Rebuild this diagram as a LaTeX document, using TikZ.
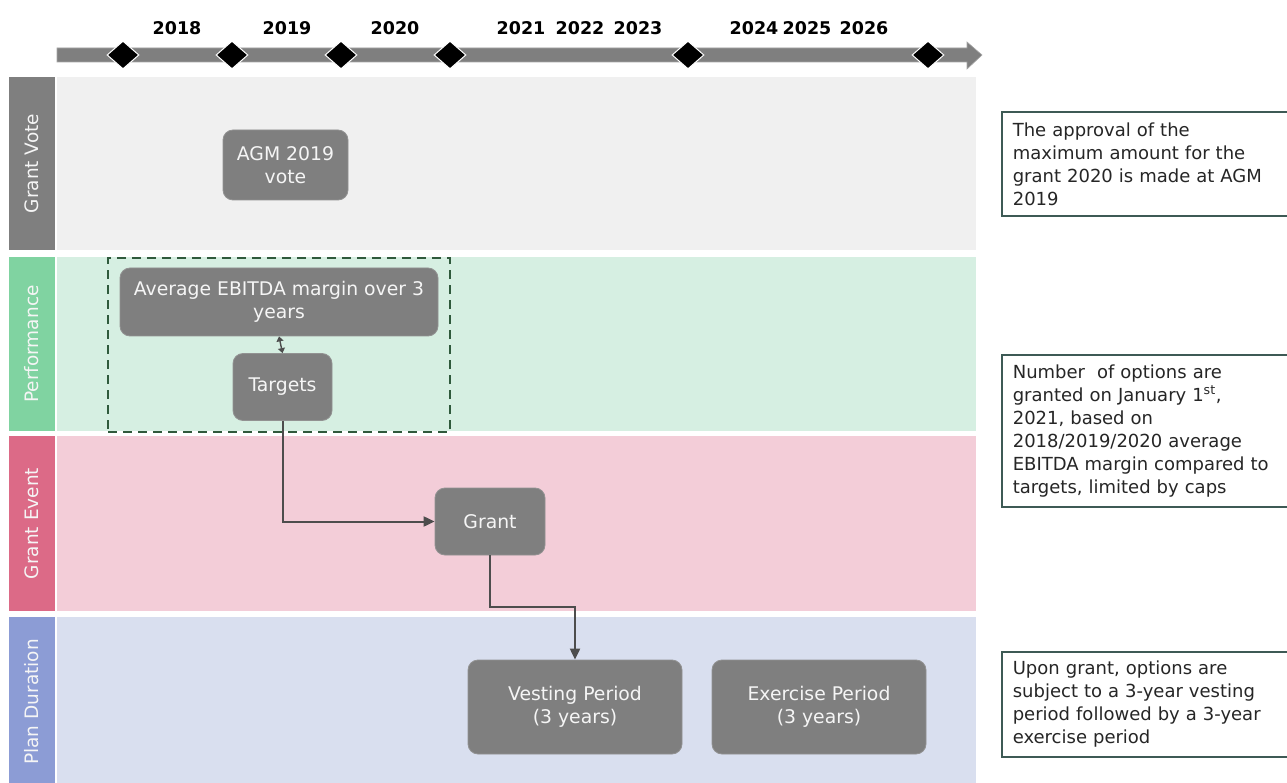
\documentclass[tikz,border=0pt]{standalone}
\usepackage{fontspec}
\setmainfont{DejaVu Sans}
\usetikzlibrary{arrows.meta,shapes.geometric}
\definecolor{boxgray}{HTML}{7F7F7F}
\definecolor{votebg}{HTML}{F0F0F0}
\definecolor{perfbg}{HTML}{D6EFE2}
\definecolor{perflab}{HTML}{80D3A1}
\definecolor{eventbg}{HTML}{F3CDD8}
\definecolor{eventlab}{HTML}{DC6A87}
\definecolor{planbg}{HTML}{D9DFEF}
\definecolor{planlab}{HTML}{8C9CD5}
\definecolor{dashgreen}{HTML}{2F5A3C}
\definecolor{notebd}{HTML}{3D5A55}
\definecolor{connc}{HTML}{4D4D4D}
\tikzset{
  stepbox/.style={rectangle, rounded corners=10pt, fill=boxgray, draw=boxgray!85!white, line width=0.8pt,
    text=white!96!black, font=\fontsize{18.8}{23}\selectfont, align=center, inner sep=0pt},
  lanelab/.style={rectangle, inner sep=0pt, minimum width=172pt, minimum height=46pt, rotate=90,
    text=white!96!black, font=\fontsize{18.5}{20}\selectfont},
  lanebg/.style={rectangle, inner sep=0pt, anchor=north west, minimum width=919pt},
  year/.style={font=\bfseries\fontsize{17.5}{20}\selectfont, text=black},
  milestone/.style={diamond, fill=black, draw=white, line width=1pt, minimum width=32pt, minimum height=28pt, inner sep=0pt},
  note/.style={rectangle, draw=notebd, line width=1.6pt, anchor=north west, align=left, text=black!85,
    font=\fontsize{18}{23}\selectfont, inner xsep=11pt, inner ysep=0pt, text width=280pt},
  conn/.style={draw=connc, line width=2pt, -{Triangle[length=11pt,width=10pt]}},
  groupbox/.style={rectangle, draw=dashgreen, line width=2.2pt, dash pattern=on 9pt off 6pt, inner sep=0pt, anchor=north west}
}
\begin{document}
\begin{tikzpicture}[x=1pt,y=-1pt]
\useasboundingbox (0,0) rectangle (1287,783);
\clip (0,0) rectangle (1287,783);
\fill[white] (0,0) rectangle (1287,783);

% timeline
\fill[boxgray, draw=boxgray!70!white, line width=0.6pt] (57,48) -- (967,48) -- (967,42) -- (982,55) -- (967,69) -- (967,62) -- (57,62) -- cycle;
\node[milestone] (m1) at (123,55) {};
\node[milestone] (m2) at (232,55) {};
\node[milestone] (m3) at (341,55) {};
\node[milestone] (m4) at (450,55) {};
\node[milestone] (m5) at (688,55) {};
\node[milestone] (m6) at (928,55) {};

\node[year] (y2018) at (177,28) {2018};
\node[year] (y2019) at (287,28) {2019};
\node[year] (y2020) at (395,28) {2020};
\node[year] (y2021) at (521,28) {2021};
\node[year] (y2022) at (580,28) {2022};
\node[year] (y2023) at (638,28) {2023};
\node[year] (y2024) at (754,28) {2024};
\node[year] (y2025) at (807,28) {2025};
\node[year] (y2026) at (864,28) {2026};

% lanes
\node[lanebg, fill=votebg, minimum height=173pt] (bgvote) at (57,77) {};
\node[lanebg, fill=perfbg, minimum height=174pt] (bgperf) at (57,257) {};
\node[lanebg, fill=eventbg, minimum height=175pt] (bgevent) at (57,436) {};
\node[lanebg, fill=planbg, minimum height=170pt] (bgplan) at (57,617) {};

\node[lanelab, fill=boxgray, minimum width=173pt] (lvote) at (32,163.5) {Grant Vote};
\node[lanelab, fill=perflab, minimum width=174pt] (lperf) at (32,344) {Performance};
\node[lanelab, fill=eventlab, minimum width=175pt] (levent) at (32,523.5) {Grant Event};
\node[lanelab, fill=planlab, minimum width=170pt] (lplan) at (32,702) {Plan Duration};

% dashed group
\node[groupbox, minimum width=342pt, minimum height=174pt] (group) at (107,257) {};

% steps
\node[stepbox, minimum width=125pt, minimum height=70pt] (agm) at (285.5,165) {AGM 2019\\vote};
\node[stepbox, minimum width=318pt, minimum height=68pt] (avg) at (279,302) {Average EBITDA margin over 3\\years};
\node[stepbox, minimum width=99pt, minimum height=67pt] (targets) at (282.5,387) {Targets};
\node[stepbox, minimum width=110pt, minimum height=67pt] (grant) at (490,521.5) {Grant};
\node[stepbox, minimum width=214pt, minimum height=94pt] (vesting) at (575,707) {Vesting Period\\(3 years)};
\node[stepbox, minimum width=214pt, minimum height=94pt] (exercise) at (819,707) {Exercise Period\\(3 years)};

% connectors
\draw[draw=connc, line width=1.4pt, {Triangle[length=5pt,width=7pt]}-{Triangle[length=5pt,width=7pt]}] (targets.north) -- (avg.south);
\draw[conn] (targets.south) |- (grant.west);
\coordinate (bend) at (490,607);
\draw[conn] (grant.south) -- (bend) -| (vesting.north);

% notes
\node[note, minimum height=104pt] (n1) at (1001,111) {The approval of the\\maximum amount for the\\grant 2020 is made at AGM\\2019};
\node[note, minimum height=152pt] (n2) at (1001,354) {Number~ of options are\\granted on January 1\textsuperscript{st},\\2021, based on\\2018/2019/2020 average\\EBITDA margin compared to\\targets, limited by caps};
\node[note, minimum height=105pt] (n3) at (1001,651) {Upon grant, options are\\subject to a 3-year vesting\\period followed by a 3-year\\exercise period};
\end{tikzpicture}
\end{document}
